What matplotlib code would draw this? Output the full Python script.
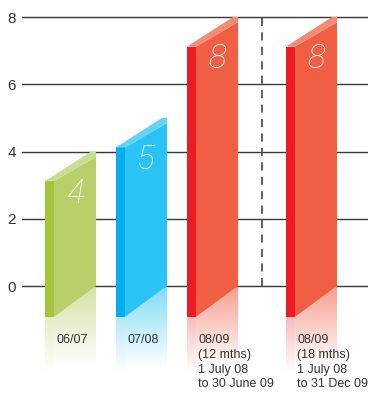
import numpy as np
import matplotlib.pyplot as plt
from matplotlib.patches import Polygon
from matplotlib.colors import to_rgb

# data
periods = ["06/07", "07/08",
           "08/09\n(12 mths)\n1 July 08\nto 30 June 09",
           "08/09\n(18 mths)\n1 July 08\nto 31 Dec 09"]
values = [4, 5, 8, 8]
face_colors = ["#b9cf6a", "#29c4f3", "#f05f44", "#f05f44"]
side_colors = ["#a5c43e", "#00aeef", "#ed1c24", "#ed1c24"]
top_colors = ["#cadc93", "#63d4f7", "#f58b72", "#f58b72"]
yticks = [0, 2, 4, 6, 8]

# layout (x units: one bar slot)
xpos = [0, 1, 2, 3.394]
side_w = 0.127
face_w = 0.592
drop = 0.88
y_min, y_max = -3.2119, 8.5056

fig = plt.figure(figsize=(3.68, 3.94), dpi=100)
ax = fig.add_axes([22 / 368, 0, 346 / 368, 1])
for s in ax.spines.values():
    s.set_visible(False)
ax.set_xticks([])
ax.set_yticks(yticks)
ax.tick_params(axis="y", length=0, pad=4.5, labelsize=11, labelcolor="#333333")
for lab in ax.get_yticklabels():
    lab.set_family(["Liberation Sans", "DejaVu Sans"])
ax.yaxis.grid(True, color="#383838", lw=1.0, zorder=0)
ax.set_axisbelow(True)


def gradient(ax, color, x0, x1, ytop, ybot, a0, clip):
    rgb = to_rgb(color)
    n = 100
    img = np.zeros((n, 2, 4))
    img[:, :, :3] = rgb
    img[:, :, 3] = np.linspace(a0, 0, n)[:, None]
    im = ax.imshow(img, extent=[x0, x1, ybot, ytop], aspect="auto",
                   origin="upper", zorder=2, interpolation="bilinear")
    im.set_clip_path(clip)


for x, v, fc, sc, tc, lab in zip(xpos, values, face_colors, side_colors,
                                 top_colors, periods):
    xs, xf, xr = x, x + side_w, x + side_w + face_w
    yl = v - drop
    # side strip
    ax.add_patch(Polygon([(xs, -0.92), (xf, -0.92), (xf, yl), (xs, yl)],
                         closed=True, fc=sc, ec="none", zorder=3))
    # front face
    ax.add_patch(Polygon([(xf, -0.92), (xr, 0), (xr, v - 0.15), (xf, yl)],
                         closed=True, fc=fc, ec="none", zorder=3))
    # top
    ax.add_patch(Polygon([(xs, yl), (xf, yl), (xr, v - 0.15), (xr, v),
                          (xr - 0.07, v)],
                         closed=True, fc=tc, ec="none", zorder=3))
    # reflections
    p1 = Polygon([(xf, -0.92), (xr, 0), (xr, -2.43), (xf, -2.43)],
                 closed=True, transform=ax.transData)
    gradient(ax, fc, xf, xr, 0, -2.43, 0.6, p1)
    p2 = Polygon([(xs, -0.92), (xf, -0.92), (xf, -2.6), (xs, -2.6)],
                 closed=True, transform=ax.transData)
    gradient(ax, sc, xs, xf, -0.92, -2.6, 0.3, p2)
    # value
    ax.text(xf + face_w * 0.5, v - 1.25, str(v), color="white",
            fontsize=24, style="italic", weight="light",
            family=["Roboto", "DejaVu Sans"], ha="center", va="center",
            zorder=4)
    # category label
    ax.text(xf + 0.03, -1.42, lab, color="#333333", fontsize=9,
            family=["Liberation Sans Narrow", "Liberation Sans"],
            ha="left", va="top", linespacing=1.32, zorder=4)

# dashed divider
xd = (xpos[2] + side_w + face_w + xpos[3]) / 2
ax.plot([xd, xd], [0, 8], color="#555555", lw=1.3, ls=(0, (4.5, 3.5)),
        zorder=1)

ax.set_xlim(-0.324, 4.549)
ax.set_ylim(y_min, y_max)

fig.savefig("out.png", dpi=100, facecolor="white")
